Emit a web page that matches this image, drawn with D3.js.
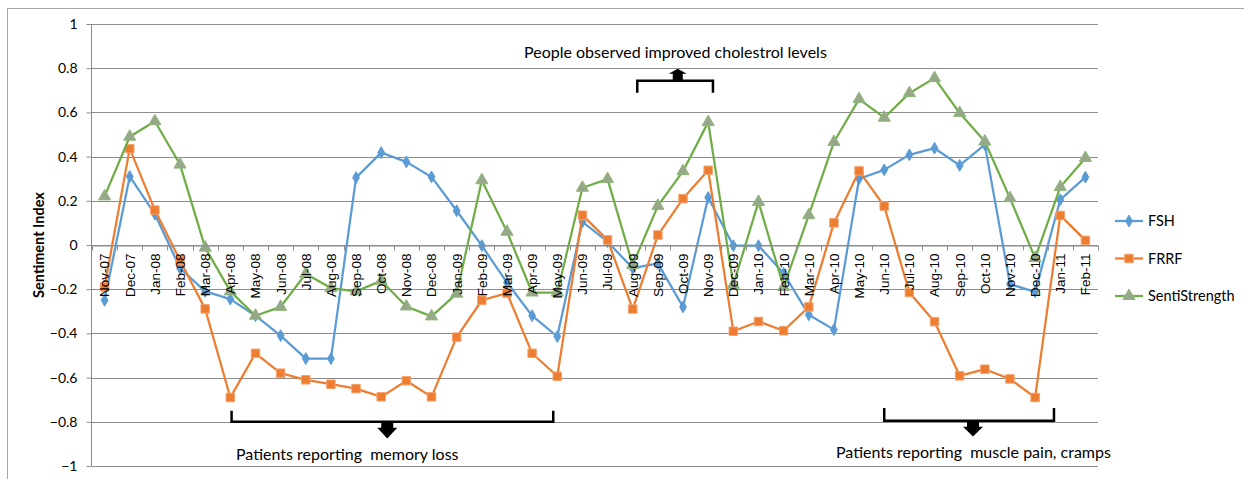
<!DOCTYPE html>
<html>
<head>
<meta charset="utf-8">
<script src="https://cdn.jsdelivr.net/npm/d3@7"></script>
<style>
  html, body { margin: 0; padding: 0; background: #fff; }
  svg { display: block; }
</style>
</head>
<body>
<svg id="chart" width="1244" height="479"></svg>
<script>
const months = ["Nov-07","Dec-07","Jan-08","Feb-08","Mar-08","Apr-08","May-08","Jun-08","Jul-08","Aug-08",
  "Sep-08","Oct-08","Nov-08","Dec-08","Jan-09","Feb-09","Mar-09","Apr-09","May-09","Jun-09",
  "Jul-09","Aug-09","Sep-09","Oct-09","Nov-09","Dec-09","Jan-10","Feb-10","Mar-10","Apr-10",
  "May-10","Jun-10","Jul-10","Aug-10","Sep-10","Oct-10","Nov-10","Dec-10","Jan-11","Feb-11"];

const fsh = [-0.25,0.31,0.14,-0.105,-0.21,-0.245,-0.32,-0.41,-0.514,-0.514,
  0.305,0.418,0.376,0.308,0.155,-0.003,-0.17,-0.32,-0.414,0.105,
  0.015,-0.105,-0.083,-0.28,0.215,-0.003,-0.003,-0.128,-0.316,-0.383,
  0.30,0.34,0.408,0.438,0.36,0.454,-0.177,-0.212,0.205,0.307];

const frrf = [-0.19,0.436,0.158,-0.07,-0.289,-0.69,-0.49,-0.58,-0.61,-0.63,
  -0.65,-0.687,-0.614,-0.687,-0.417,-0.25,-0.218,-0.49,-0.594,0.135,
  0.023,-0.29,0.045,0.21,0.338,-0.39,-0.346,-0.388,-0.28,0.10,
  0.335,0.176,-0.215,-0.347,-0.592,-0.562,-0.606,-0.69,0.134,0.021];

const senti = [0.22,0.49,0.56,0.364,-0.012,-0.21,-0.32,-0.28,-0.13,-0.195,
  -0.21,-0.162,-0.278,-0.323,-0.22,0.293,0.06,-0.215,-0.215,0.259,
  0.298,-0.09,0.177,0.334,0.556,-0.18,0.195,-0.19,0.135,0.466,
  0.66,0.576,0.687,0.755,0.597,0.468,0.212,-0.059,0.262,0.394];

const yTicks = [-1,-0.8,-0.6,-0.4,-0.2,0,0.2,0.4,0.6,0.8,1];
const seriesNames = ["FSH","FRRF","SentiStrength"];

const annotations = [
  {x0: 5.05, x1: 17.84, bar: -0.80, ends: -0.75, ax: 11.24, tip: -0.875, ty: -0.973, tx: 236, text: "Patients reporting  memory loss", dir: "down"},
  {x0: 31.0, x1: 37.75, bar: -0.795, ends: -0.737, ax: 34.53, tip: -0.866, ty: -0.964, tx: 836, text: "Patients reporting  muscle pain, cramps", dir: "down"},
  {x0: 21.18, x1: 24.19, bar: 0.743, ends: 0.689, ax: 22.79, tip: 0.798, ty: 0.846, tx: 524, text: "People observed improved cholestrol levels", dir: "up"}
];

const colors = {FSH: "#5B9BD5", FRRF: "#ED7D31", SentiStrength: "#70AD47"};

const svg = d3.select("#chart");
const margin = {left: 92, right: 146, top: 24, bottom: 13};
const W = 1244, H = 479;
const plotL = margin.left, plotR = W - margin.right, plotT = margin.top, plotB = H - margin.bottom;

svg.append("rect").attr("x", 7.5).attr("y", 8.5).attr("width", 1260).attr("height", 500)
  .attr("fill", "none").attr("stroke", "#a6a6a6").attr("stroke-width", 1);

const x = d3.scaleBand().domain(months).range([plotL, plotR]).padding(0);
const xi = d3.scaleLinear().domain([0, months.length - 1]).range([plotL + x.bandwidth()/2, plotR - x.bandwidth()/2]);
const y = d3.scaleLinear().domain([-1, 1]).range([plotB, plotT]);
const cx = m => x(m) + x.bandwidth()/2;

svg.append("g").selectAll("line").data(yTicks).join("line")
  .attr("x1", plotL).attr("x2", plotR)
  .attr("y1", d => Math.round(y(d)) + 0.5).attr("y2", d => Math.round(y(d)) + 0.5)
  .attr("stroke", "#8c8c8c").attr("stroke-width", 1);

const yAxis = d3.axisLeft(y).tickValues(yTicks).tickSize(5).tickFormat(d => d3.format("")(+d.toFixed(1)));
const yg = svg.append("g").attr("transform", `translate(${plotL - 0.5},0)`).call(yAxis);
yg.select(".domain").attr("stroke", "#8c8c8c").attr("d", `M0,${y(1)}V${y(-1)}`);
yg.selectAll(".tick line").attr("stroke", "#8c8c8c");
yg.selectAll(".tick text").attr("x", -14).attr("font-family", "Lato, 'Open Sans', sans-serif")
  .attr("font-size", "14px").attr("fill", "#000");

svg.append("text").attr("transform", `translate(44,${y(0)}) rotate(-90)`)
  .attr("text-anchor", "middle").attr("font-family", "Lato, sans-serif").attr("font-weight", "bold")
  .attr("font-size", "14.5px").text("Sentiment Index");

// series
const seriesData = [
  {name: "FSH", values: fsh},
  {name: "FRRF", values: frrf},
  {name: "SentiStrength", values: senti}
];
const line = d3.line().x((d, i) => cx(months[i])).y(d => y(d));

const symbolFor = {
  FSH: d3.symbol().type(d3.symbolDiamond).size(40),
  FRRF: d3.symbol().type(d3.symbolSquare).size(72),
  SentiStrength: d3.symbol().type(d3.symbolTriangle).size(64)
};
const markerFill = {FSH: "#5B9BD5", FRRF: "#ED7D31", SentiStrength: "#97a88a"};
const markerStroke = {FSH: "#5B9BD5", FRRF: "#f4a26c", SentiStrength: "#8fb77a"};

seriesData.forEach(s => {
  const g = svg.append("g");
  g.append("path").datum(s.values).attr("d", line).attr("fill", "none")
    .attr("stroke", colors[s.name]).attr("stroke-width", 2.25).attr("stroke-linejoin", "round");
  g.selectAll("path.m").data(s.values).join("path").attr("class", "m")
    .attr("transform", (d, i) => `translate(${cx(months[i])},${y(d)})`)
    .attr("d", symbolFor[s.name]())
    .attr("fill", markerFill[s.name]).attr("stroke", markerStroke[s.name]).attr("stroke-width", 1);
});

// x axis at zero, drawn on top of the series
const xAxis = d3.axisBottom(x).tickSize(0).tickFormat(d => d);
const xg = svg.append("g").attr("transform", `translate(0,${Math.round(y(0)) + 0.5})`).call(xAxis);
xg.select(".domain").attr("stroke", "#8c8c8c");
xg.selectAll(".tick text")
  .attr("transform", "rotate(-90)")
  .attr("x", -8).attr("y", 0).attr("dy", "0.36em")
  .attr("text-anchor", "end")
  .attr("font-family", "'Liberation Sans', Arial, sans-serif").attr("font-size", "13.5px").attr("fill", "#000");
xg.append("g").selectAll("line").data(d3.range(months.length + 1)).join("line")
  .attr("x1", i => Math.round(plotL + i * x.step()) + 0.5).attr("x2", i => Math.round(plotL + i * x.step()) + 0.5)
  .attr("y1", 0).attr("y2", 5).attr("stroke", "#8c8c8c");

// annotations
annotations.forEach(a => {
  const g = svg.append("g");
  const xa = xi(a.x0), xb = xi(a.x1), yb = y(a.bar), ye = y(a.ends);
  g.append("path").attr("d", `M${xa},${ye}L${xa},${yb}L${xb},${yb}L${xb},${ye}`)
    .attr("fill", "none").attr("stroke", "#000").attr("stroke-width", 2.5);
  const ax = xi(a.ax), tip = y(a.tip);
  let d;
  if (a.dir === "down") {
    const s0 = yb, s1 = yb + 6;
    d = `M${ax-6},${s0}L${ax+6},${s0}L${ax+6},${s1}L${ax+10},${s1}L${ax},${tip}L${ax-10},${s1}L${ax-6},${s1}Z`;
  } else {
    const s0 = yb, s1 = yb - 7;
    d = `M${ax-5},${s0}L${ax+5},${s0}L${ax+5},${s1}L${ax+9},${s1}L${ax},${tip}L${ax-9},${s1}L${ax-5},${s1}Z`;
  }
  g.append("path").attr("d", d).attr("fill", "#000");
  g.append("text").attr("x", a.tx).attr("y", y(a.ty))
    .attr("font-family", "Lato, 'Open Sans', sans-serif").attr("font-size", "16px").attr("fill", "#000")
    .attr("xml:space", "preserve").style("white-space", "pre").text(a.text);
});

// legend
const legendY = [221, 258.5, 296];
const lg = svg.append("g");
seriesData.forEach((s, i) => {
  const gy = legendY[i];
  lg.append("line").attr("x1", 1115).attr("x2", 1143).attr("y1", gy).attr("y2", gy)
    .attr("stroke", colors[s.name]).attr("stroke-width", 2.25);
  lg.append("path").attr("transform", `translate(1129,${gy})`).attr("d", symbolFor[s.name]())
    .attr("fill", markerFill[s.name]).attr("stroke", markerStroke[s.name]);
  lg.append("text").attr("x", 1148).attr("y", gy).attr("dy", "0.35em")
    .attr("font-family", "Lato, 'Open Sans', sans-serif").attr("font-size", "14.5px").text(s.name);
});
</script>
</body>
</html>
